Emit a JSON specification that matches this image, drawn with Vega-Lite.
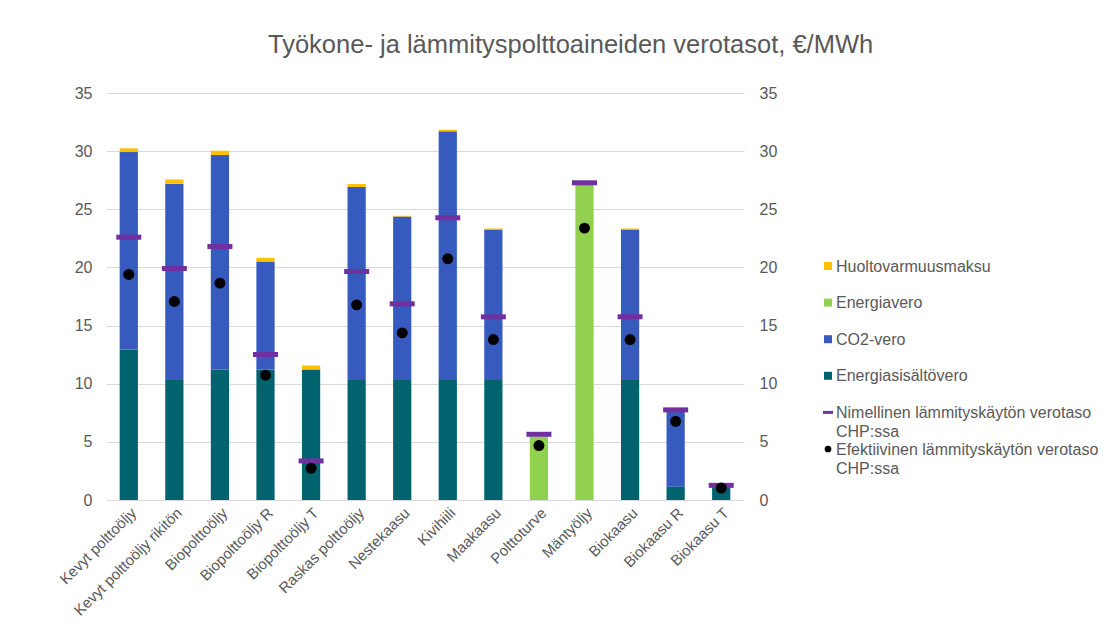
{
  "$schema": "https://vega.github.io/schema/vega-lite/v6.json",
  "autosize": {"type": "pad"},
  "padding": {"left": 56, "top": 32, "right": 5, "bottom": 5},
  "background": "white",
  "config": {
    "view": {"stroke": null},
    "font": "Liberation Sans",
    "axis": {"labelFont": "Liberation Sans", "labelColor": "#595959", "ticks": false, "domain": false}
  },
  "title": {
    "text": "Työkone- ja lämmityspolttoaineiden verotasot, €/MWh",
    "fontSize": 25.5,
    "fontWeight": "normal",
    "color": "#595959",
    "anchor": "start",
    "frame": "group",
    "dx": 162,
    "baseline": "bottom",
    "offset": 1.7
  },
  "datasets": {
    "komponentit": [
      {"polttoaine": "Kevyt polttoöljy", "komponentti": "Energiasisältövero", "arvo": 12.94},
      {"polttoaine": "Kevyt polttoöljy", "komponentti": "CO2-vero", "arvo": 16.98},
      {"polttoaine": "Kevyt polttoöljy", "komponentti": "Huoltovarmuusmaksu", "arvo": 0.32},
      {"polttoaine": "Kevyt polttoöljy rikitön", "komponentti": "Energiasisältövero", "arvo": 10.33},
      {"polttoaine": "Kevyt polttoöljy rikitön", "komponentti": "CO2-vero", "arvo": 16.87},
      {"polttoaine": "Kevyt polttoöljy rikitön", "komponentti": "Huoltovarmuusmaksu", "arvo": 0.37},
      {"polttoaine": "Biopolttoöljy", "komponentti": "Energiasisältövero", "arvo": 11.22},
      {"polttoaine": "Biopolttoöljy", "komponentti": "CO2-vero", "arvo": 18.44},
      {"polttoaine": "Biopolttoöljy", "komponentti": "Huoltovarmuusmaksu", "arvo": 0.38},
      {"polttoaine": "Biopolttoöljy R", "komponentti": "Energiasisältövero", "arvo": 11.22},
      {"polttoaine": "Biopolttoöljy R", "komponentti": "CO2-vero", "arvo": 9.29},
      {"polttoaine": "Biopolttoöljy R", "komponentti": "Huoltovarmuusmaksu", "arvo": 0.32},
      {"polttoaine": "Biopolttoöljy T", "komponentti": "Energiasisältövero", "arvo": 11.22},
      {"polttoaine": "Biopolttoöljy T", "komponentti": "Huoltovarmuusmaksu", "arvo": 0.34},
      {"polttoaine": "Raskas polttoöljy", "komponentti": "Energiasisältövero", "arvo": 10.33},
      {"polttoaine": "Raskas polttoöljy", "komponentti": "CO2-vero", "arvo": 16.58},
      {"polttoaine": "Raskas polttoöljy", "komponentti": "Huoltovarmuusmaksu", "arvo": 0.26},
      {"polttoaine": "Nestekaasu", "komponentti": "Energiasisältövero", "arvo": 10.33},
      {"polttoaine": "Nestekaasu", "komponentti": "CO2-vero", "arvo": 14.05},
      {"polttoaine": "Nestekaasu", "komponentti": "Huoltovarmuusmaksu", "arvo": 0.06},
      {"polttoaine": "Kivihiili", "komponentti": "Energiasisältövero", "arvo": 10.33},
      {"polttoaine": "Kivihiili", "komponentti": "CO2-vero", "arvo": 21.37},
      {"polttoaine": "Kivihiili", "komponentti": "Huoltovarmuusmaksu", "arvo": 0.14},
      {"polttoaine": "Maakaasu", "komponentti": "Energiasisältövero", "arvo": 10.33},
      {"polttoaine": "Maakaasu", "komponentti": "CO2-vero", "arvo": 12.94},
      {"polttoaine": "Maakaasu", "komponentti": "Huoltovarmuusmaksu", "arvo": 0.08},
      {"polttoaine": "Polttoturve", "komponentti": "Energiavero", "arvo": 5.45},
      {"polttoaine": "Mäntyöljy", "komponentti": "Energiavero", "arvo": 27.11},
      {"polttoaine": "Biokaasu", "komponentti": "Energiasisältövero", "arvo": 10.33},
      {"polttoaine": "Biokaasu", "komponentti": "CO2-vero", "arvo": 12.94},
      {"polttoaine": "Biokaasu", "komponentti": "Huoltovarmuusmaksu", "arvo": 0.08},
      {"polttoaine": "Biokaasu R", "komponentti": "Energiasisältövero", "arvo": 1.15},
      {"polttoaine": "Biokaasu R", "komponentti": "CO2-vero", "arvo": 6.45},
      {"polttoaine": "Biokaasu T", "komponentti": "Energiasisältövero", "arvo": 1.1}
    ],
    "tasot": [
      {"polttoaine": "Kevyt polttoöljy", "nimellinen": 22.6, "efektiivinen": 19.4},
      {"polttoaine": "Kevyt polttoöljy rikitön", "nimellinen": 19.91, "efektiivinen": 17.07},
      {"polttoaine": "Biopolttoöljy", "nimellinen": 21.8, "efektiivinen": 18.65},
      {"polttoaine": "Biopolttoöljy R", "nimellinen": 12.51, "efektiivinen": 10.73},
      {"polttoaine": "Biopolttoöljy T", "nimellinen": 3.36, "efektiivinen": 2.73},
      {"polttoaine": "Raskas polttoöljy", "nimellinen": 19.65, "efektiivinen": 16.78},
      {"polttoaine": "Nestekaasu", "nimellinen": 16.87, "efektiivinen": 14.37},
      {"polttoaine": "Kivihiili", "nimellinen": 24.27, "efektiivinen": 20.74},
      {"polttoaine": "Maakaasu", "nimellinen": 15.75, "efektiivinen": 13.8},
      {"polttoaine": "Polttoturve", "nimellinen": 5.65, "efektiivinen": 4.68},
      {"polttoaine": "Mäntyöljy", "nimellinen": 27.28, "efektiivinen": 23.38},
      {"polttoaine": "Biokaasu", "nimellinen": 15.75, "efektiivinen": 13.8},
      {"polttoaine": "Biokaasu R", "nimellinen": 7.75, "efektiivinen": 6.77},
      {"polttoaine": "Biokaasu T", "nimellinen": 1.26, "efektiivinen": 1.03}
    ],
    "selitteet": [
      {"selite": "Huoltovarmuusmaksu"},
      {"selite": "Energiavero"},
      {"selite": "CO2-vero"},
      {"selite": "Energiasisältövero"},
      {"selite": "Nimellinen lämmityskäytön verotaso\nCHP:ssa"},
      {"selite": "Efektiivinen lämmityskäytön verotaso\nCHP:ssa"}
    ]
  },
  "bounds": "flush",
  "spacing": 79,
  "resolve": {"scale": {"y": "independent", "color": "independent", "x": "independent"}},
  "hconcat": [
    {
      "width": 638,
      "height": 407,
      "layer": [
        {
          "data": {"name": "komponentit"},
          "transform": [
            {"calculate": "indexof(['Energiasisältövero', 'CO2-vero', 'Energiavero', 'Huoltovarmuusmaksu'], datum.komponentti)", "as": "pinojarjestys"}
          ],
          "mark": {"type": "bar"},
          "encoding": {
            "x": {
              "field": "polttoaine",
              "type": "nominal",
              "title": null,
              "scale": {
                "domain": ["Kevyt polttoöljy", "Kevyt polttoöljy rikitön", "Biopolttoöljy", "Biopolttoöljy R", "Biopolttoöljy T", "Raskas polttoöljy", "Nestekaasu", "Kivihiili", "Maakaasu", "Polttoturve", "Mäntyöljy", "Biokaasu", "Biokaasu R", "Biokaasu T"],
                "paddingInner": 0.6,
                "paddingOuter": 0.3
              },
              "axis": {"labelAngle": -45, "labelFontSize": 15, "labelPadding": 5, "labelLimit": 300}
            },
            "y": {
              "field": "arvo",
              "type": "quantitative",
              "aggregate": "sum",
              "stack": "zero",
              "title": null,
              "scale": {"domain": [0, 35], "nice": false},
              "axis": {"orient": "left", "values": [0, 5, 10, 15, 20, 25, 30, 35], "labelFontSize": 16, "labelPadding": 14, "grid": true, "gridColor": "#D9D9D9", "gridWidth": 1}
            },
            "order": {"field": "pinojarjestys", "type": "quantitative", "sort": "ascending"},
            "color": {
              "field": "komponentti",
              "type": "nominal",
              "scale": {
                "domain": ["Huoltovarmuusmaksu", "Energiavero", "CO2-vero", "Energiasisältövero"],
                "range": ["#FFC000", "#92D050", "#375ABE", "#00636E"]
              },
              "legend": null
            }
          }
        },
        {
          "data": {"name": "tasot"},
          "mark": {"type": "tick", "color": "#7030A0", "size": 25, "thickness": 5, "opacity": 1},
          "encoding": {
            "x": {"field": "polttoaine", "type": "nominal"},
            "y": {"field": "nimellinen", "type": "quantitative", "scale": {"domain": [0, 35], "nice": false}, "axis": null}
          }
        },
        {
          "data": {"name": "tasot"},
          "mark": {"type": "circle", "color": "#000000", "size": 120, "opacity": 1},
          "encoding": {
            "x": {"field": "polttoaine", "type": "nominal"},
            "y": {
              "field": "efektiivinen",
              "type": "quantitative",
              "title": null,
              "scale": {"domain": [0, 35], "nice": false},
              "axis": {"orient": "right", "values": [0, 5, 10, 15, 20, 25, 30, 35], "labelFontSize": 16, "labelPadding": 15, "grid": false}
            }
          }
        }
      ],
      "resolve": {"scale": {"y": "independent"}}
    },
    {
      "width": 10,
      "height": 407,
      "data": {"name": "selitteet"},
      "encoding": {
        "y": {
          "field": "selite",
          "type": "nominal",
          "axis": null,
          "scale": {
            "type": "point",
            "domain": ["tyhjä 1", "tyhjä 2", "tyhjä 3", "tyhjä 4", "Huoltovarmuusmaksu", "Energiavero", "CO2-vero", "Energiasisältövero", "Nimellinen lämmityskäytön verotaso\nCHP:ssa", "Efektiivinen lämmityskäytön verotaso\nCHP:ssa", "tyhjä 5"],
            "padding": 0.56,
            "align": 0.649
          }
        }
      },
      "layer": [
        {
          "transform": [{"filter": {"field": "selite", "oneOf": ["Huoltovarmuusmaksu", "Energiavero", "CO2-vero", "Energiasisältövero"]}}],
          "mark": {"type": "point", "shape": "square", "filled": true, "opacity": 1, "size": 64},
          "encoding": {
            "color": {
              "field": "selite",
              "type": "nominal",
              "scale": {
                "domain": ["Huoltovarmuusmaksu", "Energiavero", "CO2-vero", "Energiasisältövero"],
                "range": ["#FFC000", "#92D050", "#375ABE", "#00636E"]
              },
              "legend": null
            }
          }
        },
        {
          "transform": [{"filter": {"field": "selite", "equal": "Nimellinen lämmityskäytön verotaso\nCHP:ssa"}}],
          "mark": {"type": "point", "shape": "stroke", "filled": false, "opacity": 1, "size": 100, "strokeWidth": 3, "color": "#7030A0"}
        },
        {
          "transform": [{"filter": {"field": "selite", "equal": "Efektiivinen lämmityskäytön verotaso\nCHP:ssa"}}],
          "mark": {"type": "point", "shape": "circle", "filled": true, "opacity": 1, "size": 45, "color": "#000000"}
        },
        {
          "mark": {"type": "text", "align": "left", "baseline": "alphabetic", "dx": 8, "dy": 5.5, "lineBreak": "\n", "lineHeight": 19, "fontSize": 16, "font": "Liberation Sans", "color": "#595959"},
          "encoding": {"text": {"field": "selite"}}
        }
      ]
    }
  ]
}
